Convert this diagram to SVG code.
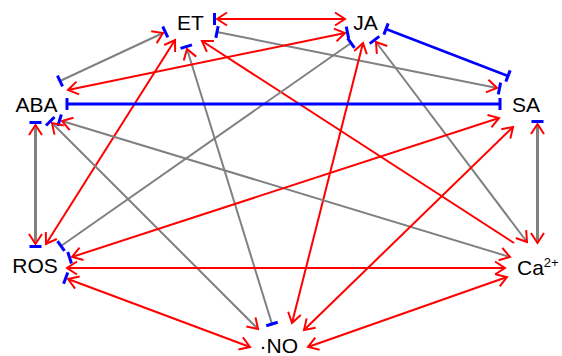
<svg xmlns="http://www.w3.org/2000/svg" width="562" height="356" viewBox="0 0 562 356">
<style>
  marker { overflow: visible; }
  .lbl { font-family: "Liberation Sans", Arial, sans-serif; font-size: 21px; fill: #000; }
  .sup { font-size: 13px; }
  .e { fill: none; stroke-width: 2; }
  .red { stroke: #ff0000; }
  .gray { stroke: #808080; }
  .blue { stroke: #0000ff; }
  .thick { stroke-width: 3; }
  .ah { fill: none; stroke: #ff0000; stroke-width: 2; }
  .bh { stroke: #0000ff; stroke-width: 3; }
</style>
<defs>
  <marker id="arr" markerUnits="userSpaceOnUse" orient="auto-start-reverse" refX="0" refY="0" markerWidth="1" markerHeight="1">
    <path class="ah" d="M-10,-6.5 L0,0 L-10,6.5"/>
  </marker>
  <marker id="bar" markerUnits="userSpaceOnUse" orient="auto-start-reverse" refX="0" refY="0" markerWidth="1" markerHeight="1">
    <line class="bh" x1="0" y1="-6" x2="0" y2="6"/>
  </marker>
  <marker id="arrbar" markerUnits="userSpaceOnUse" orient="auto-start-reverse" refX="0" refY="0" markerWidth="1" markerHeight="1">
    <path class="ah" d="M-10,-6.5 L0,0 L-10,6.5"/>
    <line class="bh" x1="2.5" y1="-6" x2="2.5" y2="6"/>
  </marker>
</defs>
<g id="connectors">
  <line id="ET-JA" class="e red" x1="217" y1="19" x2="345" y2="19" marker-start="url(#arrbar)" marker-end="url(#arr)"/>
  <line id="ET-SA" class="e gray" x1="217" y1="32" x2="497" y2="88" marker-start="url(#bar)" marker-end="url(#arrbar)"/>
  <line id="ABA-ET" class="e gray" x1="60" y1="81" x2="163" y2="33" marker-start="url(#bar)" marker-end="url(#arrbar)"/>
  <line id="ET-ROS" class="e red" x1="46" y1="244" x2="175" y2="40" marker-start="url(#arr)" marker-end="url(#arr)"/>
  <line id="ET-NO" class="e gray" x1="187" y1="49" x2="272" y2="324" marker-start="url(#arrbar)" marker-end="url(#bar)"/>
  <line id="ET-Ca" class="e red" x1="202" y1="41" x2="514" y2="243" marker-start="url(#arr)"/>
  <line id="JA-SA" class="e blue" style="stroke-width:2.5" x1="386" y1="29" x2="508" y2="76" marker-start="url(#bar)" marker-end="url(#bar)"/>
  <line id="ABA-JA" class="e red" x1="68" y1="90" x2="345" y2="33" marker-start="url(#arr)" marker-end="url(#arrbar)"/>
  <line id="ROS-JA" class="e gray" x1="61" y1="246" x2="351" y2="43" marker-start="url(#bar)" marker-end="url(#bar)"/>
  <line id="JA-NO" class="e red" x1="363" y1="43" x2="292" y2="323" marker-start="url(#arr)" marker-end="url(#arr)"/>
  <line id="JA-Ca" class="e gray" x1="376" y1="42" x2="527" y2="242" marker-start="url(#arrbar)" marker-end="url(#arr)"/>
  <line id="ABA-SA" class="e blue thick" x1="67" y1="104" x2="500" y2="104" marker-start="url(#bar)" marker-end="url(#bar)"/>
  <line id="ABA-ROS" class="e gray thick" x1="35.5" y1="125" x2="35.5" y2="244" marker-start="url(#arrbar)" marker-end="url(#arrbar)"/>
  <line id="ABA-Ca" class="e gray" x1="62" y1="121" x2="510" y2="257" marker-start="url(#arrbar)" marker-end="url(#arr)"/>
  <line id="ABA-NO" class="e gray" x1="52" y1="123" x2="258" y2="329" marker-start="url(#arrbar)" marker-end="url(#arr)"/>
  <line id="SA-ROS" class="e red" x1="499" y1="118" x2="72" y2="257" marker-start="url(#arr)" marker-end="url(#arrbar)"/>
  <line id="SA-NO" class="e red" x1="513" y1="127" x2="304" y2="330" marker-start="url(#arr)" marker-end="url(#arr)"/>
  <line id="SA-Ca" class="e gray thick" x1="537.5" y1="124" x2="537.5" y2="243" marker-start="url(#arrbar)" marker-end="url(#arr)"/>
  <line id="ROS-Ca" class="e red" x1="67" y1="268" x2="505" y2="268" marker-start="url(#arr)" marker-end="url(#arr)"/>
  <line id="ROS-NO" class="e red" x1="68" y1="279" x2="250" y2="347" marker-start="url(#arrbar)" marker-end="url(#arr)"/>
  <line id="Ca-NO" class="e red" x1="507" y1="277" x2="308" y2="347" marker-start="url(#arr)" marker-end="url(#arr)"/>
</g>
<g id="node-ET"><text class="lbl" x="190.5" y="30" text-anchor="middle">ET</text></g>
<g id="node-JA"><text class="lbl" x="365.5" y="30" text-anchor="middle">JA</text></g>
<g id="node-ABA"><text class="lbl" x="36.5" y="112" text-anchor="middle">ABA</text></g>
<g id="node-SA"><text class="lbl" x="526" y="112" text-anchor="middle">SA</text></g>
<g id="node-ROS"><text class="lbl" x="35" y="273" text-anchor="middle">ROS</text></g>
<g id="node-Ca"><text class="lbl" x="517" y="275">Ca<tspan class="sup" dy="-8">2+</tspan></text></g>
<g id="node-NO"><text class="lbl" x="259.5" y="353">·NO</text></g>
</svg>
